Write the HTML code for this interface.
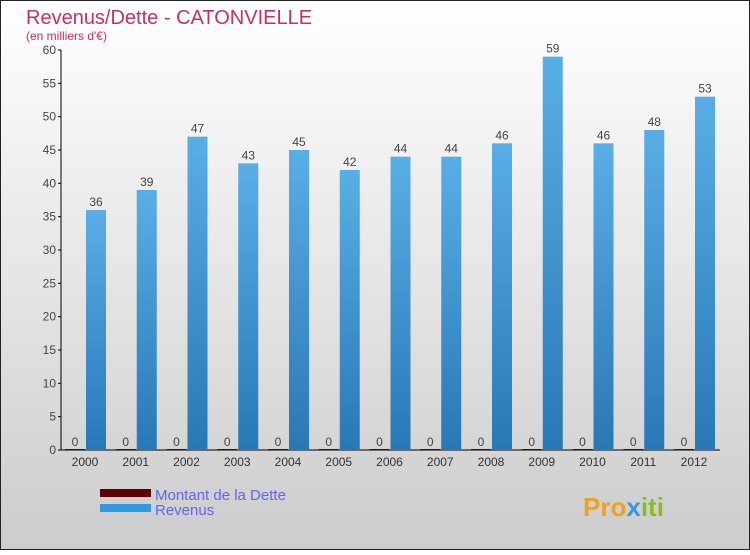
<!DOCTYPE html>
<html><head><meta charset="utf-8"><style>
body{margin:0;width:750px;height:550px;overflow:hidden;font-family:"Liberation Sans",sans-serif}
</style></head><body>
<svg width="750" height="550">
<defs>
<linearGradient id="bg" x1="0" y1="0" x2="0" y2="1"><stop offset="0" stop-color="#ffffff"/><stop offset="1" stop-color="#cccccc"/></linearGradient>
<linearGradient id="bar" x1="0" y1="0" x2="0" y2="1"><stop offset="0" stop-color="#5aaee6"/><stop offset="1" stop-color="#2878b6"/></linearGradient>
</defs>
<rect x="0.5" y="0.5" width="749" height="549" fill="url(#bg)" stroke="#222"/>
<text x="26" y="24" font-size="20" fill="#c0306a">Revenus/Dette - CATONVIELLE</text>
<text x="26" y="40" font-size="12" fill="#c0306a">(en milliers d'€)</text>
<g id="axes"></g>
<g id="bars"></g>
<rect x="100" y="489" width="51" height="8" fill="#600000"/>
<text x="155" y="500" font-size="15" fill="#6464f0">Montant de la Dette</text>
<rect x="100" y="504" width="51" height="8" fill="#3399e0"/>
<text x="155" y="515" font-size="15" fill="#6464f0">Revenus</text>
<text x="583" y="516" font-size="26" font-weight="bold" fill="#f0a020">Pro<tspan fill="#3399e0">x</tspan><tspan fill="#88bb22">iti</tspan></text>
</svg>
<script>
const years=["2000","2001","2002","2003","2004","2005","2006","2007","2008","2009","2010","2011","2012"];
const dette=[0,0,0,0,0,0,0,0,0,0,0,0,0];
const revenus=[36,39,47,43,45,42,44,44,46,59,46,48,53];
const yTicks=[0,5,10,15,20,25,30,35,40,45,50,55,60];
const NS="http://www.w3.org/2000/svg";
function y(v){return 450-v*400/60;}
function xc(i){return 85+i*50.75;}
function mk(tag,attrs,parent,txt){const e=document.createElementNS(NS,tag);for(const k in attrs)e.setAttribute(k,attrs[k]);if(txt!==undefined)e.textContent=txt;parent.appendChild(e);return e;}
const ax=document.getElementById('axes'),bg=document.getElementById('bars');
let l=mk('line',{x1:61,y1:50,x2:61,y2:450,stroke:'#000'},ax);


l=mk('line',{x1:61,y1:450,x2:720,y2:450,stroke:'#000'},ax);


yTicks.forEach(t=>{
 let tk=mk('line',{x1:58,y1:y(t),x2:61,y2:y(t),stroke:'#000'},ax);
 
 
 let tx=mk('text',{x:56,y:y(t)+4,'font-size':12,fill:'#444','text-anchor':'end'},ax,String(t));
 
 
});
years.forEach((yr,i)=>{
 const c=xc(i);
 let tx=mk('text',{x:c,y:466,'font-size':12,fill:'#333','text-anchor':'middle'},ax,yr);
 
 
 const hd=Math.max(1,450-y(dette[i]));
 let b=mk('rect',{x:c-20,y:450-hd,width:20,height:hd,fill:'#600000'},bg);
 
 
 let v=mk('text',{x:c-10,y:y(dette[i])-4,'font-size':12,fill:'#444','text-anchor':'middle'},bg,String(dette[i]));
 
 
 b=mk('rect',{x:c+1,y:y(revenus[i]),width:20,height:450-y(revenus[i]),fill:'url(#bar)'},bg);
 
 
 v=mk('text',{x:c+11,y:y(revenus[i])-4,'font-size':12,fill:'#444','text-anchor':'middle'},bg,String(revenus[i]));
 
 
});
</script>
</body></html>
